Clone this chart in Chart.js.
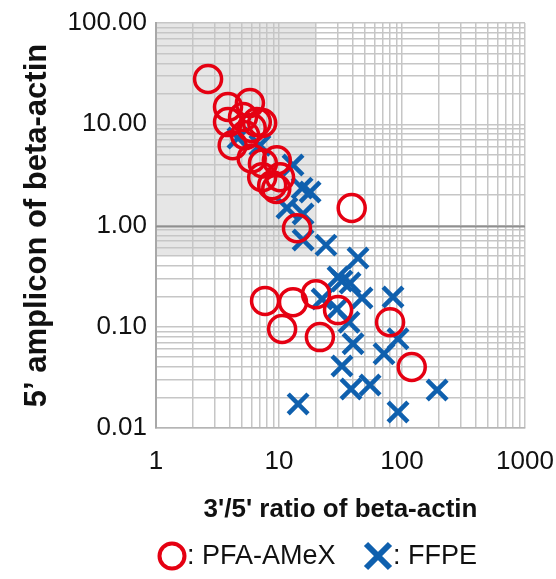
<!DOCTYPE html>
<html>
<head>
<meta charset="utf-8">
<script src="https://cdn.jsdelivr.net/npm/chart.js@4/dist/chart.umd.min.js"></script>
<style>
  html, body { margin: 0; padding: 0; background: #ffffff; }
  #wrap { width: 556px; height: 579px; position: relative; }
</style>
</head>
<body>
<div id="wrap"><canvas id="c" width="556" height="579"></canvas></div>
<script>
// ---- data ----
const pfaX = [2.65, 3.85, 5.8, 3.85, 5.1, 7.3, 6.0, 6.6, 4.2, 5.3, 6.0, 7.4, 9.6, 7.3, 8.8, 10.2, 9.5, 14.0, 39, 7.7, 13.0, 20.0, 30.2, 10.6, 21.5, 80, 120];
const pfaY = [28, 14.8, 16.2, 10.5, 11.8, 10.3, 9.2, 10.5, 6.2, 7.8, 4.6, 4.1, 4.4, 3.0, 2.5, 3.0, 2.3, 0.94, 1.49, 0.18, 0.175, 0.21, 0.146, 0.095, 0.079, 0.111, 0.040];
const ffpeX = [4.64, 7.0, 13.0, 15.4, 17.9, 11.6, 15.7, 15.7, 24.1, 43.9, 30.2, 32.5, 37.8, 22.4, 29.6, 47.3, 84.5, 37.1, 40, 92.8, 71.4, 32.5, 38.5, 55, 193, 92.8, 14.3];
const ffpeY = [7.3, 6.2, 3.96, 2.34, 2.14, 1.49, 1.30, 0.72, 0.64, 0.478, 0.31, 0.283, 0.27, 0.188, 0.15, 0.192, 0.197, 0.111, 0.068, 0.076, 0.054, 0.041, 0.0243, 0.0266, 0.0237, 0.0144, 0.0173];

const seriesNames = ['PFA-AMeX', 'FFPE'];
const xTickValues = [1, 10, 100, 1000];
const xTickLabels = ['1', '10', '100', '1000'];
const yTickValues = [0.01, 0.1, 1, 10, 100];
const yTickLabels = ['0.01', '0.10', '1.00', '10.00', '100.00'];
const xTitle = "3'/5' ratio of beta-actin";
const yTitle = "5\u2019 amplicon of beta-actin";
// shaded region (x from, x to, y from, y to)
const shadeX = [1, 20];
const shadeY = [0.5, 100];
const axisCrossY = 1;

const RED = '#e50012';
const BLUE = '#0f60ae';
const FONT = "'Liberation Sans', Arial, sans-serif";

function toPoints(xs, ys) { return xs.map((x, i) => ({ x: x, y: ys[i] })); }

function allTicks(decades) {
  const out = [];
  for (let i = 0; i < decades.length - 1; i++) {
    for (let m = 1; m <= 9; m++) out.push({ value: decades[i] * m });
  }
  out.push({ value: decades[decades.length - 1] });
  return out;
}
function labelFor(v, vals, labs) {
  for (let i = 0; i < vals.length; i++) {
    if (Math.abs(Math.log10(v) - Math.log10(vals[i])) < 1e-6) return labs[i];
  }
  return '';
}

const shadePlugin = {
  id: 'shade',
  beforeDraw(chart) {
    const { ctx, scales: { x, y } } = chart;
    const l = x.getPixelForValue(shadeX[0]), r = x.getPixelForValue(shadeX[1]);
    const t = y.getPixelForValue(shadeY[1]), b = y.getPixelForValue(shadeY[0]);
    ctx.save();
    ctx.fillStyle = '#e6e6e6';
    ctx.fillRect(l, t, r - l, b - t);
    ctx.restore();
  },
  beforeDatasetsDraw(chart) {
    const { ctx, chartArea, scales: { y } } = chart;
    const py = Math.round(y.getPixelForValue(axisCrossY)) + 0.5;
    ctx.save();
    ctx.strokeStyle = '#8f8f8f';
    ctx.lineWidth = 2;
    ctx.beginPath();
    ctx.moveTo(chartArea.left, py);
    ctx.lineTo(chartArea.right, py);
    ctx.stroke();
    ctx.restore();
  },
  afterDraw(chart) {
    const { ctx } = chart;
    const ds = chart.data.datasets;
    const cy = 556;
    ctx.save();
    ctx.font = '27px ' + FONT;
    ctx.textBaseline = 'middle';
    ctx.fillStyle = '#111';
    // circle marker
    ctx.strokeStyle = ds[0].borderColor;
    ctx.lineWidth = 4;
    ctx.beginPath();
    ctx.arc(172, cy, 12.5, 0, Math.PI * 2);
    ctx.stroke();
    ctx.fillText(': ' + ds[0].label, 187, cy + 1);
    // cross marker
    ctx.strokeStyle = ds[1].borderColor;
    ctx.lineWidth = 6;
    ctx.beginPath();
    ctx.moveTo(366, cy - 12); ctx.lineTo(390, cy + 12);
    ctx.moveTo(390, cy - 12); ctx.lineTo(366, cy + 12);
    ctx.stroke();
    ctx.fillText(': ' + ds[1].label, 393, cy + 1);
    ctx.restore();
  }
};

new Chart(document.getElementById('c'), {
  type: 'scatter',
  data: {
    datasets: [
      {
        label: seriesNames[0],
        data: toPoints(pfaX, pfaY),
        pointStyle: 'circle',
        radius: 13.5,
        borderWidth: 3.5,
        borderColor: RED,
        backgroundColor: 'rgba(0,0,0,0)',
        order: 0
      },
      {
        label: seriesNames[1],
        data: toPoints(ffpeX, ffpeY),
        pointStyle: 'crossRot',
        radius: 14,
        borderWidth: 4.5,
        borderColor: BLUE,
        backgroundColor: BLUE,
        order: 1
      }
    ]
  },
  options: {
    responsive: false,
    animation: false,
    events: [],
    layout: { padding: { left: 0, right: 31, top: 23, bottom: 0 } },
    plugins: {
      legend: { display: false },
      tooltip: { enabled: false }
    },
    scales: {
      x: {
        type: 'logarithmic',
        position: 'bottom',
        min: xTickValues[0],
        max: xTickValues[xTickValues.length - 1],
        afterBuildTicks(scale) { scale.ticks = allTicks(xTickValues); },
        afterFit(scale) { scale.height = 151; scale.paddingLeft = 0; scale.paddingRight = 0; },
        grid: { color: '#c6c6c6', lineWidth: 1.5, drawTicks: false },
        border: { display: true, color: '#b5b5b5', width: 1.5 },
        ticks: {
          autoSkip: false, maxRotation: 0, minRotation: 0, padding: 18,
          color: '#111', font: { family: FONT, size: 26 },
          callback: (v) => labelFor(v, xTickValues, xTickLabels)
        },
        title: {
          display: true, text: xTitle, color: '#111',
          font: { family: FONT, size: 26, weight: 'bold' },
          padding: { top: 0, bottom: 54 }
        }
      },
      y: {
        type: 'logarithmic',
        position: 'left',
        min: yTickValues[0],
        max: yTickValues[yTickValues.length - 1],
        afterBuildTicks(scale) { scale.ticks = allTicks(yTickValues); },
        afterFit(scale) { scale.width = 156; scale.paddingTop = 0; scale.paddingBottom = 0; },
        grid: { color: '#c6c6c6', lineWidth: 1.5, drawTicks: false },
        border: { display: true, color: '#a8a8a8', width: 2 },
        ticks: {
          autoSkip: false, padding: 9,
          color: '#111', font: { family: FONT, size: 26 },
          callback: (v) => labelFor(v, yTickValues, yTickLabels)
        },
        title: {
          display: true, text: yTitle, color: '#111',
          font: { family: FONT, size: 31, weight: 'bold' },
          padding: { top: 19, bottom: 0 }
        }
      }
    }
  },
  plugins: [shadePlugin]
});
</script>
</body>
</html>
